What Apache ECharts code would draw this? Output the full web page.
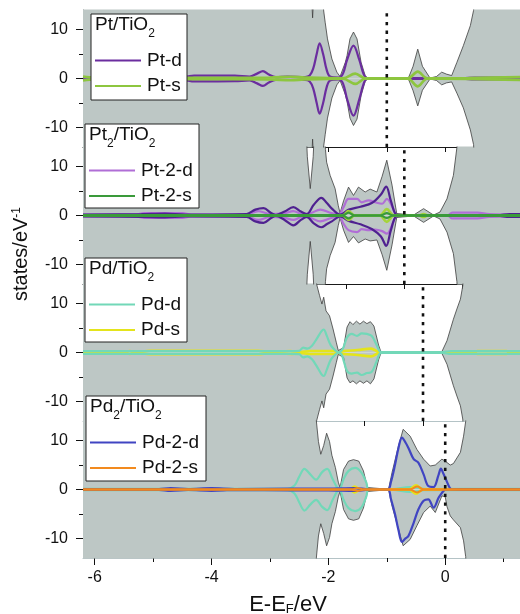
<!DOCTYPE html>
<html>
<head>
<meta charset="utf-8">
<script src="https://cdn.jsdelivr.net/npm/echarts@6.0.0/dist/echarts.min.js"></script>
<style>
  html, body { margin: 0; padding: 0; background: #fff; }
  #chart { width: 520px; height: 614px; }
</style>
</head>
<body>
<div id="chart"></div>
<script>
// energy window shared by all four panels (eV)
const E_MIN = -6.2;
const E_MAX = 1.28;

// tick positions (each panel's own bottom axis is shifted)
const xTicks1 = [-6, -5, -4, -3, -2, -1, 0, 1];
const xTicks2 = [-5.7, -4.7, -3.7, -2.7, -1.7, -0.7, 0.3];
const xTicks3 = [-5.38, -4.38, -3.38, -2.38, -1.38, -0.38, 0.62];
const xTicks4 = [-6, -4, -2, 0];
const xMinorTicks4 = [-5, -3, -1, 1];
const xLabels = [-6, -4, -2, 0];
const yTicks = [-10, 0, 10];
const yMinorTicks = [-5, 5];

// dotted Fermi-level marks
const fermi = [-1.0, -0.7, -0.38, 0];

// titles / legend names
const titles = ['{m|Pt/TiO}{s|2}', '{m|Pt}{s|2}{m|/TiO}{s|2}', '{m|Pd/TiO}{s|2}', '{m|Pd}{s|2}{m|/TiO}{s|2}'];
const legendNames = [['Pt-d', 'Pt-s'], ['Pt-2-d', 'Pt-2-s'], ['Pd-d', 'Pd-s'], ['Pd-2-d', 'Pd-2-s']];

// ---- total DOS  [E, spin up, spin down] ----
const tot1 = [
  [-6.2, 20, -20], [-2.30, 20, -20], [-2.27, 12.4, -12.4], [-2.24, 20, -20], [-2.12, 20, -20],
  [-2.08, 13.8, -13.8], [-2.055, 11.5, -11.5], [-2.015, 8.1, -8.1], [-1.94, 4.0, -4.0], [-1.855, 1.3, -1.3],
  [-1.80, 0.4, -0.4], [-1.71, 3.3, -3.3], [-1.68, 4.7, -4.7], [-1.63, 8.1, -8.1], [-1.57, 9.5, -9.6],
  [-1.51, 8.1, -8.3], [-1.44, 3.3, -3.5], [-1.37, 0.6, -0.6], [-1.33, 0.1, -0.1], [-0.63, 0.1, -0.1],
  [-0.55, 2.5, -2.5], [-0.47, 6.0, -5.6], [-0.39, 2.5, -2.4], [-0.26, 0.1, -0.1], [-0.15, 0.4, -0.4],
  [-0.06, 1.3, -1.3], [0.02, 0.9, -0.9], [0.11, 0.6, -0.7], [0.2, 3.3, -3.0], [0.31, 6.7, -6.0],
  [0.43, 10.8, -10.5], [0.485, 13.9, -13.5], [0.52, 20, -20], [1.3, 20, -20]
];
const tot2 = [
  [-6.2, 20, -20], [-2.39, 20, -20], [-2.36, 12, -12], [-2.31, 5.5, -5.3], [-2.26, 12, -12],
  [-2.23, 20, -20], [-2.08, 20, -20], [-2.05, 13.5, -13.5], [-2.03, 10.9, -10.9], [-1.97, 8.2, -8.2],
  [-1.885, 5.5, -5.5], [-1.83, 2.0, -2.0], [-1.80, 0.5, -0.5], [-1.74, 3.0, -3.0], [-1.655, 5.8, -5.5],
  [-1.57, 4.1, -4.3], [-1.485, 5.8, -5.6], [-1.37, 4.8, -4.8], [-1.285, 5.4, -5.2], [-1.17, 4.8, -5.0],
  [-1.08, 8.0, -8.0], [-1.0, 11.3, -11.2], [-0.91, 6.2, -6.0], [-0.83, 0.4, -0.4], [-0.8, 0.1, -0.1],
  [-0.54, 0.1, -0.1], [-0.37, 1.4, -1.4], [-0.2, 0.1, -0.1], [-0.09, 0.7, -0.7], [0.03, 3.4, -3.4],
  [0.14, 8.2, -7.8], [0.2, 13.9, -13.5], [0.23, 20, -20], [1.3, 20, -20]
];
const tot3 = [
  [-6.2, 20, -20], [-2.25, 20, -20], [-2.20, 13.9, -13.9], [-2.15, 11.6, -11.6], [-2.11, 9.9, -9.9],
  [-2.08, 11.3, -11.3], [-2.04, 8.5, -8.5], [-1.98, 7.5, -7.5], [-1.92, 4.8, -4.8], [-1.865, 2.1, -2.1],
  [-1.83, 0.4, -0.4], [-1.80, 0.2, -0.2], [-1.74, 1.0, -1.0], [-1.68, 5.2, -5.2], [-1.63, 6.3, -6.2],
  [-1.58, 5.7, -5.8], [-1.52, 6.4, -6.4], [-1.46, 5.8, -5.8], [-1.40, 6.4, -6.3], [-1.34, 5.9, -5.8],
  [-1.28, 6.3, -6.4], [-1.22, 5.4, -5.4], [-1.14, 1.5, -1.5], [-1.10, 0.1, -0.1], [-0.06, 0.1, -0.1],
  [0.03, 2.4, -2.4], [0.09, 4.8, -4.8], [0.14, 6.8, -6.8], [0.2, 8.9, -8.9], [0.26, 10.9, -10.9],
  [0.30, 13.6, -13.6], [0.34, 20, -20], [1.3, 20, -20]
];
const tot4 = [
  [-6.2, 20, -20], [-2.25, 20, -20], [-2.21, 14.5, -14.5], [-2.17, 9.8, -9.5], [-2.13, 7.2, -7.0],
  [-2.08, 9.0, -9.0], [-2.03, 11.5, -11.5], [-1.98, 9.8, -9.8], [-1.94, 7.0, -7.0], [-1.88, 4.5, -4.5],
  [-1.83, 1.5, -1.5], [-1.80, 0.4, -0.4], [-1.74, 4.1, -4.1], [-1.655, 5.8, -6.0], [-1.57, 6.1, -6.3],
  [-1.48, 5.8, -6.0], [-1.40, 3.8, -3.8], [-1.33, 0.4, -0.4], [-1.31, 0.05, -0.05], [-0.97, 0.05, -0.05],
  [-0.91, 3.5, -3.4], [-0.8, 8.9, -8.1], [-0.72, 12.3, -11.5], [-0.6, 10.9, -10.2], [-0.485, 8.2, -7.4],
  [-0.37, 6.2, -4.7], [-0.257, 4.8, -3.4], [-0.17, 5.0, -4.7], [-0.057, 6.2, -1.3], [0.0, 5.8, -1.5],
  [0.03, 5.5, -3.5], [0.086, 5.0, -5.4], [0.14, 5.3, -6.2], [0.26, 7.6, -7.8], [0.314, 10.9, -10.5],
  [0.35, 13.9, -13.7], [0.39, 20, -20], [1.3, 20, -20]
];

// ---- projected DOS  [E, spin up, spin down] ----
const ptD = [
  [-6.2, 0.25, -0.25], [-5.0, 0.3, -0.3], [-4.45, 0.35, -0.35], [-4.3, 0.6, -0.6], [-3.6, 0.6, -0.55],
  [-3.35, 0.4, -0.4], [-3.22, 1.0, -1.0], [-3.12, 1.5, -1.5], [-3.02, 0.8, -0.8], [-2.9, 0.3, -0.3],
  [-2.7, 0.4, -0.3], [-2.4, 0.3, -0.3], [-2.32, 0.6, -0.6], [-2.26, 2.0, -2.0], [-2.2, 5.0, -5.0],
  [-2.15, 7.2, -7.2], [-2.09, 5.0, -5.0], [-2.03, 1.8, -1.8], [-1.97, 0.4, -0.4], [-1.82, 0.2, -0.2],
  [-1.75, 1.0, -1.0], [-1.68, 3.8, -4.2], [-1.57, 6.7, -7.6], [-1.47, 3.8, -4.2], [-1.40, 1.0, -1.2],
  [-1.34, 0.1, -0.1], [0.3, 0.05, -0.05], [0.5, 0.2, -0.2], [1.3, 0.2, -0.2]
];
const ptS = [
  [-6.2, 0.4, -0.4], [-6.0, 0.2, -0.2], [-4.5, 0.15, -0.15], [-3.0, 0.2, -0.2], [-2.65, 0.35, -0.35],
  [-2.4, 0.2, -0.2], [-1.75, 0.05, -0.05], [-1.54, 1.0, -1.1], [-1.37, 0.05, -0.05], [-0.64, 0.05, -0.05],
  [-0.47, 1.4, -1.6], [-0.31, 0.05, -0.05], [0.4, 0.1, -0.1], [1.3, 0.3, -0.3]
];
const pt1D = [
  [-6.2, 0.2, -0.2], [-5.2, 0.3, -0.3], [-4.8, 0.4, -0.4], [-4.45, 0.2, -0.2], [-3.4, 0.3, -0.3],
  [-3.25, 1.2, -1.2], [-3.11, 1.5, -1.5], [-2.98, 0.5, -0.5], [-2.9, 0.1, -0.1], [-2.75, 0.8, -0.9],
  [-2.6, 1.7, -2.0], [-2.47, 0.8, -0.9], [-2.37, 0.3, -0.3], [-2.25, 2.2, -1.6], [-2.12, 3.6, -2.4],
  [-2.03, 2.6, -1.8], [-1.94, 1.4, -1.2], [-1.8, 0.2, -0.2], [-1.65, 1.2, -1.1], [-1.45, 1.8, -1.8],
  [-1.25, 2.6, -2.8], [-1.1, 4.3, -4.3], [-1.01, 5.9, -6.2], [-0.93, 3.0, -3.0], [-0.84, 0.2, -0.2],
  [-0.75, 0.05, -0.05], [0.9, 0.05, -0.05], [1.1, 0.3, -0.3], [1.3, 0.3, -0.3]
];
const pt2D = [
  [-6.2, 0.2, -0.2], [-5.3, 0.2, -0.2], [-5.15, 0.5, -0.5], [-4.5, 0.5, -0.5], [-4.35, 0.2, -0.2],
  [-3.4, 0.2, -0.2], [-3.2, 0.9, -0.9], [-3.0, 0.3, -0.3], [-2.75, 0.5, -0.5], [-2.6, 0.9, -0.9],
  [-2.45, 0.3, -0.3], [-2.3, 0.5, -0.5], [-2.14, 1.2, -1.2], [-1.95, 0.5, -0.5], [-1.82, 0.2, -0.2],
  [-1.74, 1.7, -1.7], [-1.655, 3.4, -3.0], [-1.51, 3.4, -3.4], [-1.43, 2.7, -2.8], [-1.31, 3.1, -3.0],
  [-1.2, 2.7, -2.9], [-1.08, 2.4, -3.2], [-1.0, 3.4, -3.7], [-0.89, 1.4, -1.4], [-0.83, 0.1, -0.1],
  [0.05, 0.1, -0.1], [0.12, 0.6, -0.6], [0.55, 0.6, -0.6], [0.75, 0.3, -0.3], [1.3, 0.2, -0.2]
];
const pt1S = [
  [-6.2, 0, 0], [-1.76, 0, 0], [-1.655, 0.9, -0.9], [-1.55, 0, 0], [-1.12, 0, 0],
  [-1.0, 1.3, -1.3], [-0.88, 0, 0], [-0.45, 0, 0], [-0.37, 0.3, -0.3], [-0.3, 0, 0], [1.3, 0, 0]
];
const pt2S = [
  [-6.2, 0.1, -0.1], [-2.0, 0.1, -0.1], [-1.75, 0.05, -0.05], [-1.655, 0.6, -0.6], [-1.56, 0.05, -0.05],
  [-1.1, 0.05, -0.05], [-1.0, 0.5, -0.5], [-0.9, 0.05, -0.05], [1.3, 0.1, -0.1]
];
const pdD = [
  [-6.2, 0.3, -0.3], [-3.0, 0.3, -0.3], [-2.65, 0.3, -0.3], [-2.5, 0.35, -0.35], [-2.43, 1.0, -1.0],
  [-2.36, 0.8, -0.8], [-2.28, 1.4, -1.4], [-2.2, 2.8, -2.8], [-2.12, 4.3, -4.4], [-2.08, 4.7, -4.8],
  [-2.03, 3.5, -3.6], [-1.96, 1.5, -1.5], [-1.88, 0.4, -0.4], [-1.83, 0.05, -0.05], [-1.78, 0.3, -0.3],
  [-1.74, 1.1, -1.6], [-1.68, 3.1, -3.8], [-1.6, 3.8, -4.3], [-1.51, 3.4, -4.1], [-1.43, 3.9, -4.6],
  [-1.34, 3.8, -4.2], [-1.26, 3.4, -4.0], [-1.18, 1.7, -2.0], [-1.12, 0.2, -0.2], [-1.08, 0.1, -0.1],
  [-0.05, 0.1, -0.1], [0.1, 0.3, -0.3], [1.3, 0.3, -0.3]
];
const pdS = [
  [-6.2, 0.05, -0.05], [-5.5, 0.05, -0.05], [-5.4, 0.3, -0.3], [-5.3, 0.05, -0.05], [-5.05, 0.35, -0.35],
  [-3.2, 0.35, -0.35], [-3.0, 0.1, -0.1], [-2.65, 0.3, -0.3], [-2.48, 0.1, -0.1], [-2.31, 0.3, -0.3],
  [-1.91, 0.3, -0.3], [-1.83, 0.05, -0.05], [-1.74, 0.3, -0.3], [-1.5, 0.5, -0.5], [-1.27, 0.8, -0.8],
  [-1.12, 0.05, -0.05], [0.5, 0.05, -0.05], [0.55, 0.3, -0.3], [1.05, 0.3, -0.3], [1.1, 0.05, -0.05],
  [1.3, 0.05, -0.05]
];
const pd1D = [
  [-6.2, 0.15, -0.15], [-2.7, 0.15, -0.15], [-2.58, 0.8, -0.8], [-2.5, 2.6, -2.6], [-2.41, 4.2, -4.3],
  [-2.31, 3.1, -3.1], [-2.21, 2.0, -2.1], [-2.11, 3.5, -3.5], [-2.02, 4.2, -4.2], [-1.93, 2.2, -2.2],
  [-1.85, 0.4, -0.4], [-1.81, 0.1, -0.1], [-1.74, 2.1, -2.1], [-1.655, 3.8, -3.8], [-1.54, 4.4, -4.4],
  [-1.43, 3.4, -3.6], [-1.35, 1.4, -1.4], [-1.31, 0.05, -0.05], [-0.9, 0.1, -0.1], [-0.6, 0.5, -0.5],
  [-0.3, 0.1, -0.1], [1.3, 0.15, -0.15]
];
const pd2D = [
  [-6.2, 0.1, -0.1], [-4.9, 0.1, -0.1], [-4.7, 0.3, -0.3], [-4.4, 0.1, -0.1], [-4.0, 0.3, -0.3],
  [-3.6, 0.1, -0.1], [-2.6, 0.2, -0.2], [-2.0, 0.2, -0.2], [-1.55, 0.3, -0.3], [-1.3, 0.05, -0.05],
  [-0.98, 0.05, -0.05], [-0.93, 1.5, -1.9], [-0.86, 5.0, -5.0], [-0.8, 8.5, -8.3], [-0.74, 10.6, -10.7],
  [-0.68, 9.6, -10.0], [-0.63, 8.5, -9.5], [-0.54, 6.2, -6.8], [-0.46, 5.5, -4.1], [-0.37, 3.1, -2.3],
  [-0.29, 0.7, -2.0], [-0.2, 0.5, -3.7], [-0.114, 3.0, -1.7], [-0.074, 4.25, -1.0], [-0.03, 3.2, -0.3],
  [0.0, 2.4, -0.1], [0.074, 0.4, -0.05], [0.11, 0.05, -0.05], [0.4, 0.1, -0.1], [1.3, 0.1, -0.1]
];
const pd1S = [
  [-6.2, 0, 0], [-1.65, 0, 0], [-1.55, 0.6, -0.6], [-1.45, 0, 0], [-0.62, 0, 0],
  [-0.5, 0.9, -0.9], [-0.38, 0, 0], [1.3, 0, 0]
];
const pd2S = [
  [-6.2, 0.05, -0.05], [-1.6, 0.05, -0.05], [-1.5, 0.3, -0.3], [-1.4, 0.05, -0.05], [-0.6, 0.05, -0.05],
  [-0.48, 0.6, -0.6], [-0.37, 0.05, -0.05], [1.3, 0.05, -0.05]
];

// colours
const C = {
  gray: '#bdc7c5', edge: '#3d3d3d',
  ptD: '#6b2d9f', ptS: '#8dc63f',
  pt2D: '#b06ed6', pt1D: '#4f2190', pt2S: '#3a9a3a', pt1S: '#a5d43a',
  pdD: '#72d8b8', pdS: '#e4e41c',
  pd2D: '#4045c2', pd2S: '#f28a1e', pd1S: '#e4e41c'
};

const FONT = "'Liberation Sans', Arial, sans-serif";
const GRID_TOPS = [10, 147, 284, 421];
const GRID_H = 137;

// per panel: total DOS, tick set, projected curves in drawing order
const panels = [
  { tot: tot1, ticks: xTicks1, lines: [['Pt-d', ptD, C.ptD, 2.2], ['Pt-s', ptS, C.ptS, 2.6]] },
  { tot: tot2, ticks: xTicks2, lines: [['Pt-2-d', pt2D, C.pt2D, 2.2], ['Pt-1-d', pt1D, C.pt1D, 2.2], ['Pt-1-s', pt1S, C.pt1S, 2.6], ['Pt-2-s', pt2S, C.pt2S, 2.2]] },
  { tot: tot3, ticks: xTicks3, lines: [['Pd-s', pdS, C.pdS, 2.6], ['Pd-d', pdD, C.pdD, 2.2]] },
  { tot: tot4, ticks: xTicks4, lines: [['Pd-1-d', pd1D, C.pdD, 2.2], ['Pd-1-s', pd1S, C.pd1S, 2.4], ['Pd-2-d', pd2D, C.pd2D, 2.2], ['Pd-2-s', pd2S, C.pd2S, 2.0]] }
];
const legendColors = [[C.ptD, C.ptS], [C.pt2D, C.pt2S], [C.pdD, C.pdS], [C.pd2D, C.pd2S]];
// legend boxes: left, top, width, height
const legendBoxes = [[91, 14, 96, 86], [85, 124, 114, 84], [85, 258, 102, 84], [86, 396, 120, 85]];

const grid = GRID_TOPS.map(t => ({ left: 83, right: 0, top: t, height: GRID_H }));

const xAxis = panels.map((p, i) => ({
  type: 'value', gridIndex: i, min: E_MIN, max: E_MAX,
  axisLine: { show: true, onZero: false, lineStyle: { color: i < 2 ? '#1a1a1a' : '#b4c3c6', width: 1 } },
  axisTick: { show: true, inside: false, length: i === 3 ? 7 : 5, customValues: p.ticks, lineStyle: { color: '#111', width: 1 } },
  axisLabel: i === 3
    ? { show: true, customValues: xLabels, fontSize: 16, color: '#111', margin: 12, fontFamily: FONT }
    : { show: false },
  splitLine: { show: false }
}));
xAxis.push({
  type: 'value', gridIndex: 3, min: E_MIN, max: E_MAX, position: 'bottom',
  axisLine: { show: false, onZero: false },
  axisTick: { show: true, inside: false, length: 4, customValues: xMinorTicks4, lineStyle: { color: '#111', width: 1 } },
  axisLabel: { show: false }, splitLine: { show: false }
});

const yAxis = [];
panels.forEach((p, i) => {
  yAxis.push({
    type: 'value', gridIndex: i, min: -14, max: 14, position: 'left',
    axisLine: { show: true, onZero: false, lineStyle: { color: '#666', width: 1 } },
    axisTick: { show: true, inside: false, length: 7, customValues: yTicks, lineStyle: { color: '#111', width: 1 } },
    axisLabel: { show: true, customValues: yTicks, fontSize: 16, color: '#111', margin: 15, fontFamily: FONT },
    splitLine: { show: false }
  });
});
panels.forEach((p, i) => {
  yAxis.push({
    type: 'value', gridIndex: i, min: -14, max: 14, position: 'left',
    axisLine: { show: false, onZero: false },
    axisTick: { show: true, inside: false, length: 4, customValues: yMinorTicks, lineStyle: { color: '#111', width: 1 } },
    axisLabel: { show: false }, splitLine: { show: false }
  });
});

// one series for spin up, one for spin down
function pairSeries(name, rows, i, style) {
  return [1, 2].map(k => Object.assign({
    name, type: 'line', xAxisIndex: i, yAxisIndex: i,
    data: rows.map(r => [r[0], r[k]]),
    symbol: 'none', silent: true
  }, style));
}

const series = [];
panels.forEach((p, i) => {
  series.push(...pairSeries('Total', p.tot, i, {
    smooth: false, z: 2,
    lineStyle: { color: C.edge, width: 0.8 },
    areaStyle: { color: C.gray, opacity: 1 }
  }));
  p.lines.forEach(([name, rows, color, width]) => {
    series.push(...pairSeries(name, rows, i, {
      smooth: 0.35, z: 3,
      lineStyle: { color, width }
    }));
  });
  series.push({
    name: 'EF', type: 'line', xAxisIndex: i, yAxisIndex: i, symbol: 'none', silent: true, z: 5,
    data: [[fermi[i], -14], [fermi[i], 14]],
    lineStyle: { color: '#111', width: 2.6, type: [3.3, 5.4], cap: 'butt' }
  });
});

// legends, titles and axis names
const graphic = [];
legendBoxes.forEach((b, i) => {
  graphic.push({
    type: 'rect', z: 100, shape: { x: b[0], y: b[1], width: b[2], height: b[3] },
    style: { fill: '#fff', stroke: '#222', lineWidth: 1 }
  });
  graphic.push({
    type: 'text', z: 101, x: b[0] + 4, y: b[1] + 7,
    style: {
      text: titles[i], fill: '#111', textAlign: 'left', textVerticalAlign: 'top', align: 'left', verticalAlign: 'top',
      rich: {
        m: { fontSize: 19, fontFamily: FONT, lineHeight: 19, padding: [0, 0, 6, 0], verticalAlign: 'bottom', fill: '#111' },
        s: { fontSize: 12, fontFamily: FONT, lineHeight: 12, verticalAlign: 'bottom', fill: '#111' }
      }
    }
  });
  legendNames[i].forEach((nm, j) => {
    const y = b[1] + 46.5 + 25.5 * j;
    graphic.push({
      type: 'line', z: 101, shape: { x1: b[0] + 4, y1: y, x2: b[0] + 50, y2: y },
      style: { stroke: legendColors[i][j], lineWidth: 2 }
    });
    graphic.push({
      type: 'text', z: 101, x: b[0] + 56, y: y,
      style: { text: nm, fontSize: 19, fontFamily: FONT, fill: '#111', textVerticalAlign: 'middle', verticalAlign: 'middle' }
    });
  });
});
graphic.push({
  type: 'text', z: 101, x: 21, y: 254, rotation: Math.PI / 2,
  style: {
    text: '{m|states/eV}{p|-1}', fill: '#111',
    textAlign: 'center', textVerticalAlign: 'middle', align: 'center', verticalAlign: 'middle',
    rich: {
      m: { fontSize: 20, fontFamily: FONT, lineHeight: 20, verticalAlign: 'bottom', fill: '#111' },
      p: { fontSize: 12, fontFamily: FONT, lineHeight: 12, verticalAlign: 'top', fill: '#111' }
    }
  }
});
graphic.push({
  type: 'text', z: 101, x: 288, y: 604.5,
  style: {
    text: '{m|E-E}{f|F}{m|/eV}', fill: '#111',
    textAlign: 'center', textVerticalAlign: 'middle', align: 'center', verticalAlign: 'middle',
    rich: {
      m: { fontSize: 22, fontFamily: FONT, lineHeight: 22, verticalAlign: 'bottom', fill: '#111' },
      f: { fontSize: 13, fontFamily: FONT, lineHeight: 13, verticalAlign: 'bottom', fill: '#111' }
    }
  }
});

const chart = echarts.init(document.getElementById('chart'), null, { renderer: 'canvas' });
chart.setOption({
  animation: false,
  backgroundColor: '#fff',
  textStyle: { fontFamily: FONT },
  grid, xAxis, yAxis, series, graphic
});
</script>
</body>
</html>
